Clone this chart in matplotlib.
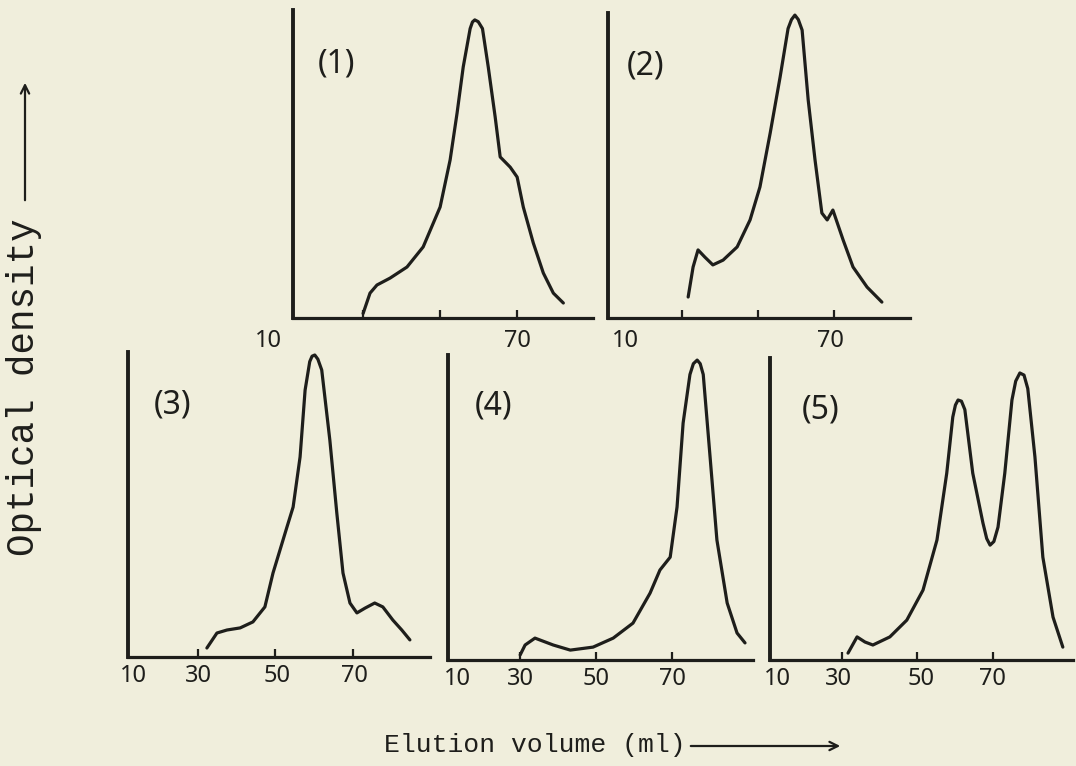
import matplotlib
matplotlib.use("Agg")
import matplotlib.pyplot as plt

W, H = 1076, 766
BG = '#f0eedc'
INK = '#1e1e1b'

# ---- data (elution volume in ml, optical density in arbitrary units) ----
vol1 = [30, 31.8, 33.6, 37, 41.4, 45.6, 50, 52.6, 54.4, 56, 57.8, 58.4, 59,
        59.9, 61, 62.5, 64.3, 65.6, 68.2, 70, 71.6, 74.2, 76.8, 79.4, 82]
od1 = [1.5, 8.3, 11, 13.3, 17, 23.7, 37, 52.7, 68.3, 83.7, 96.5, 98.7, 99.4,
       98.8, 96.5, 83.7, 67, 53.7, 50.3, 47, 37, 25, 15, 8.3, 5]

vol2 = [31.6, 32.9, 34.2, 36, 38.1, 40.8, 44.5, 47.9, 50.5, 53.2, 55.8, 57.9,
        58.8, 59.7, 60.6, 61.6, 63.2, 65, 66.8, 68.2, 69.7, 72.4, 75, 78.7, 82.6]
od2 = [7, 17, 22.7, 20.3, 17.7, 19.3, 23.7, 32.7, 43.7, 61.7, 80.3, 96.5, 99.5,
       101, 99.5, 96, 72.7, 52.7, 35, 32.7, 36, 26, 17, 10.3, 5.3]

vol3 = [32.3, 34.9, 37.5, 40.9, 44.2, 47.3, 49.4, 53, 54.6, 56.4, 57.7, 58.9,
        59.5, 60.2, 61, 62, 64.1, 65.9, 67.5, 69.3, 71.1, 73.2, 75.7, 77.8, 80.4,
        82.7, 84.8]
od3 = [3, 8, 9, 9.7, 11.7, 16.7, 28, 43.3, 50, 66.7, 89, 98.5, 100.3, 100.7,
       99.3, 95.7, 72.3, 48, 28, 18, 14.7, 16.3, 18, 16.7, 12.3, 9, 5.7]

vol4 = [30, 31.3, 33.9, 38.7, 43.2, 49.2, 54.5, 59.7, 64.2, 66.8, 69.5, 71.3,
        72.9, 74.7, 75.6, 76.6, 77.4, 78.2, 80, 81.8, 84.5, 87.1, 89.2]
od4 = [1.7, 5, 7.3, 5, 3.3, 4.3, 7.3, 12.3, 22.3, 30, 34.3, 51, 79, 95.2, 98.8,
       100, 98.8, 95.2, 67.7, 40, 19, 9, 5.7]

vol5 = [31.6, 34, 36.1, 38.2, 42.7, 47.2, 51.5, 55.2, 57.8, 59.4, 60.1, 60.8,
        61.7, 62.6, 64.7, 67.4, 68.4, 69.3, 70.3, 71.4, 73.2, 75.1, 76.1, 77.2,
        78.3, 79.3, 81.2, 83.3, 86, 88.6]
od5 = [2.3, 7.7, 6, 5, 7.7, 13.3, 23.3, 40, 62.3, 81, 85, 86.7, 86.3, 83.5,
       62.3, 45.7, 40.5, 38.3, 39.5, 44.3, 62.3, 86.7, 93, 95.7, 95, 90.5, 67.7,
       34.3, 14.3, 4.3]

panel_names = ['(1)', '(2)', '(3)', '(4)', '(5)']
tick_vals = [30, 50, 70]
top_tick_labels = ['10', '70']
bottom_tick_labels = ['10', '30', '50', '70']

# ---- layout (pixels: left, top, right, bottom), axis limits, label spots ----
layout = [
    dict(box=(293, 10, 593, 318), xlim=(11.8, 89.7), ylim=(0, 102.7),
         lab_x=[5.3, 70], labels=top_tick_labels, lab_off=23, name_xy=(23.2, 84.7)),
    dict(box=(608, 13, 910, 318), xlim=(10.5, 90), ylim=(0, 101.7),
         lab_x=[15, 69], labels=top_tick_labels, lab_off=23, name_xy=(20.5, 84)),
    dict(box=(128, 352, 430, 657), xlim=(11.9, 90), ylim=(0, 101.7),
         lab_x=[13.2, 30, 50.4, 70.5], labels=bottom_tick_labels, lab_off=19, name_xy=(23.5, 84)),
    dict(box=(448, 355, 753, 660), xlim=(11, 91.3), ylim=(0, 101.7),
         lab_x=[13.4, 30, 50, 70], labels=bottom_tick_labels, lab_off=19, name_xy=(22.9, 84.7)),
    dict(box=(770, 358, 1073, 660), xlim=(10.9, 91.3), ylim=(0, 100.7),
         lab_x=[13, 29, 51, 70], labels=bottom_tick_labels, lab_off=19, name_xy=(24.2, 83.3)),
]
series = [(vol1, od1), (vol2, od2), (vol3, od3), (vol4, od4), (vol5, od5)]

fig = plt.figure(figsize=(W / 100, H / 100), dpi=100)
fig.patch.set_facecolor(BG)

NUM_FONT = 'Noto Sans'
px2pt = 72 / 100

for (vx, vy), name, lay in zip(series, panel_names, layout):
    l, t, r, b = lay['box']
    ax = fig.add_axes([l / W, 1 - b / H, (r - l) / W, (b - t) / H])
    ax.set_facecolor('none')
    ax.set_xlim(*lay['xlim'])
    ax.set_ylim(*lay['ylim'])
    for s in ['top', 'right']:
        ax.spines[s].set_visible(False)
    ax.spines['left'].set_linewidth(2.8)
    ax.spines['bottom'].set_linewidth(2.3)
    ax.spines['left'].set_color(INK)
    ax.spines['bottom'].set_color(INK)
    ax.plot(vx, vy, color=INK, lw=2.3, solid_joinstyle='round',
            solid_capstyle='round', clip_on=False)
    ax.set_xticks(tick_vals)
    ax.set_xticklabels([])
    ax.tick_params(axis='x', direction='in', length=6, width=1.6, color=INK)
    ax.set_yticks([])
    for xv, txt in zip(lay['lab_x'], lay['labels']):
        ax.annotate(txt, xy=(xv, 0), xycoords=('data', 'axes fraction'),
                    xytext=(0, -lay['lab_off'] * px2pt), textcoords='offset points',
                    ha='center', va='center', fontsize=17, family=NUM_FONT,
                    color=INK, annotation_clip=False)
    ax.text(lay['name_xy'][0], lay['name_xy'][1], name, ha='center', va='center',
            fontsize=23, family=NUM_FONT, color=INK)

TYPE_FONT = 'Liberation Mono'
# y label with arrow
fig.text(24 / W, 1 - 387 / H, 'Optical density', rotation=90, ha='center',
         va='center', fontsize=27, family=TYPE_FONT, color=INK)
fig.add_artist(matplotlib.patches.FancyArrowPatch(
    (25 / W, 1 - 203 / H), (25 / W, 1 - 80 / H), transform=fig.transFigure,
    arrowstyle='->,head_length=6,head_width=3', lw=1.6, color=INK))

# x label with arrow
fig.text(535 / W, 1 - 745 / H, 'Elution volume (ml)', ha='center', va='center',
         fontsize=19, family=TYPE_FONT, color=INK)
fig.add_artist(matplotlib.patches.FancyArrowPatch(
    (688 / W, 1 - 746 / H), (843 / W, 1 - 746 / H), transform=fig.transFigure,
    arrowstyle='->,head_length=6,head_width=3', lw=1.6, color=INK))

fig.savefig('out.png', dpi=100, facecolor=BG)
